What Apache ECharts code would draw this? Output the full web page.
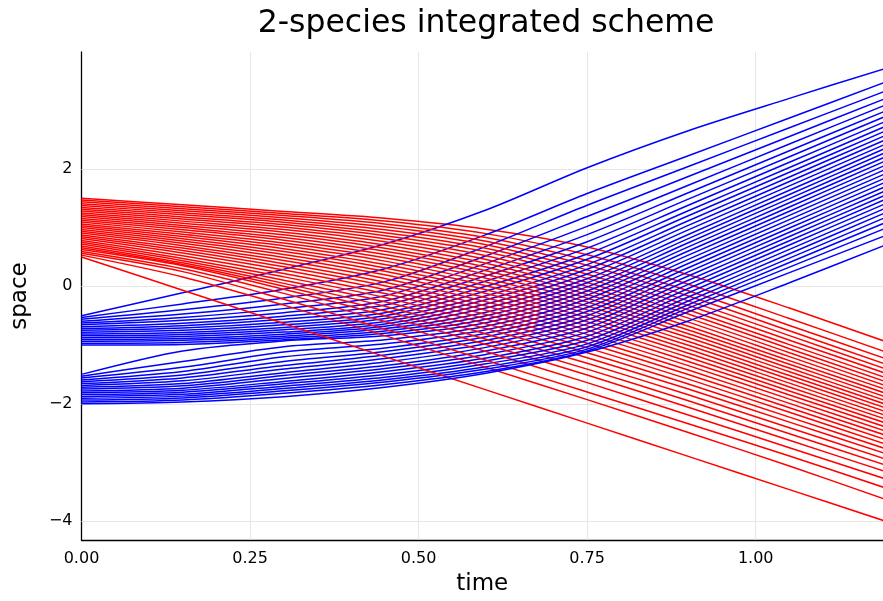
<!DOCTYPE html>
<html><head><meta charset="utf-8">
<script src="https://cdn.jsdelivr.net/npm/echarts@6.0.0/dist/echarts.min.js"></script>
<style>html,body{margin:0;padding:0;background:#fff}#chart{width:883px;height:601px}</style>
</head><body><div id="chart"></div>
<script>
const times = [0, 0.15, 0.3, 0.45, 0.6, 0.75, 0.9, 1.05, 1.19];
const redLines = [
[1.5, 1.388, 1.275, 1.159, 0.973, 0.671, 0.197, -0.37, -0.93],
[1.469, 1.355, 1.241, 1.112, 0.897, 0.537, 0.036, -0.548, -1.107],
[1.438, 1.322, 1.206, 1.063, 0.83, 0.44, -0.076, -0.666, -1.222],
[1.406, 1.287, 1.168, 1.014, 0.768, 0.357, -0.166, -0.758, -1.314],
[1.375, 1.253, 1.131, 0.964, 0.709, 0.28, -0.248, -0.84, -1.395],
[1.344, 1.218, 1.092, 0.914, 0.648, 0.207, -0.327, -0.918, -1.471],
[1.313, 1.182, 1.051, 0.862, 0.587, 0.135, -0.402, -0.993, -1.544],
[1.281, 1.146, 1.009, 0.81, 0.521, 0.066, -0.473, -1.062, -1.613],
[1.25, 1.11, 0.966, 0.758, 0.457, -0.002, -0.542, -1.13, -1.68],
[1.219, 1.074, 0.922, 0.704, 0.393, -0.07, -0.61, -1.198, -1.746],
[1.188, 1.037, 0.877, 0.65, 0.329, -0.138, -0.679, -1.265, -1.811],
[1.156, 1.0, 0.831, 0.596, 0.266, -0.202, -0.743, -1.327, -1.873],
[1.125, 0.963, 0.785, 0.541, 0.202, -0.268, -0.809, -1.392, -1.936],
[1.094, 0.925, 0.738, 0.485, 0.138, -0.334, -0.873, -1.455, -1.998],
[1.063, 0.887, 0.69, 0.429, 0.074, -0.401, -0.94, -1.52, -2.061],
[1.031, 0.849, 0.641, 0.371, 0.009, -0.466, -1.005, -1.583, -2.123],
[1.0, 0.811, 0.592, 0.313, -0.057, -0.535, -1.072, -1.649, -2.188],
[0.969, 0.772, 0.542, 0.255, -0.124, -0.603, -1.139, -1.714, -2.252],
[0.938, 0.733, 0.491, 0.195, -0.194, -0.674, -1.209, -1.782, -2.318],
[0.906, 0.692, 0.439, 0.133, -0.262, -0.744, -1.279, -1.85, -2.385],
[0.875, 0.651, 0.386, 0.071, -0.334, -0.818, -1.351, -1.921, -2.455],
[0.844, 0.609, 0.332, 0.008, -0.406, -0.892, -1.425, -1.994, -2.526],
[0.813, 0.566, 0.277, -0.057, -0.481, -0.969, -1.502, -2.069, -2.6],
[0.781, 0.521, 0.219, -0.124, -0.557, -1.048, -1.581, -2.146, -2.676],
[0.75, 0.475, 0.161, -0.192, -0.637, -1.131, -1.663, -2.228, -2.756],
[0.719, 0.435, 0.105, -0.262, -0.72, -1.217, -1.75, -2.313, -2.84],
[0.688, 0.40, 0.05, -0.34, -0.811, -1.311, -1.847, -2.408, -2.933],
[0.656, 0.37, 0.0, -0.42, -0.9, -1.41, -1.949, -2.51, -3.035],
[0.625, 0.35, -0.05, -0.50, -0.99, -1.51, -2.06, -2.622, -3.145],
[0.594, 0.30, -0.12, -0.6, -1.11, -1.64, -2.19, -2.749, -3.271],
[0.563, 0.25, -0.22, -0.73, -1.26, -1.8, -2.34, -2.89, -3.424],
[0.531, 0.16, -0.32, -0.84, -1.38, -1.93, -2.49, -3.06, -3.618],
[0.5, -0.066, -0.632, -1.198, -1.764, -2.33, -2.896, -3.462, -3.99]
];
const blueLines = [
[-0.5, -0.11, 0.29, 0.72, 1.3, 2.02, 2.65, 3.2, 3.702],
[-0.531, -0.30, -0.05, 0.3, 0.88, 1.58, 2.223, 2.866, 3.466],
[-0.5625, -0.40, -0.2, 0.08, 0.68, 1.38, 2.04, 2.699, 3.314],
[-0.594, -0.47, -0.3, -0.06, 0.52, 1.19, 1.871, 2.552, 3.187],
[-0.625, -0.53, -0.38, -0.16, 0.39, 1.02, 1.721, 2.423, 3.077],
[-0.656, -0.58, -0.45, -0.25, 0.28, 0.88, 1.594, 2.309, 2.975],
[-0.6875, -0.63, -0.51, -0.32, 0.18, 0.76, 1.484, 2.207, 2.882],
[-0.719, -0.67, -0.56, -0.39, 0.09, 0.65, 1.381, 2.113, 2.795],
[-0.75, -0.71, -0.61, -0.45, 0.0, 0.55, 1.287, 2.024, 2.712],
[-0.781, -0.75, -0.655, -0.5, -0.08, 0.46, 1.201, 1.942, 2.633],
[-0.8125, -0.785, -0.7, -0.55, -0.16, 0.37, 1.116, 1.862, 2.557],
[-0.844, -0.82, -0.74, -0.6, -0.23, 0.29, 1.037, 1.785, 2.482],
[-0.875, -0.855, -0.78, -0.64, -0.3, 0.21, 0.96, 1.71, 2.409],
[-0.906, -0.89, -0.815, -0.68, -0.37, 0.13, 0.883, 1.635, 2.337],
[-0.9375, -0.92, -0.85, -0.72, -0.44, 0.06, 0.812, 1.564, 2.265],
[-0.969, -0.955, -0.88, -0.76, -0.5, -0.01, 0.742, 1.493, 2.194],
[-1.0, -0.99, -0.91, -0.8, -0.56, -0.08, 0.671, 1.422, 2.123],
[-1.5, -1.10, -0.93, -0.84, -0.62, -0.15, 0.601, 1.351, 2.051],
[-1.531, -1.28, -1.03, -0.91, -0.68, -0.22, 0.53, 1.279, 1.978],
[-1.5625, -1.38, -1.12, -0.98, -0.74, -0.29, 0.458, 1.207, 1.905],
[-1.594, -1.45, -1.20, -1.05, -0.8, -0.36, 0.388, 1.136, 1.833],
[-1.625, -1.51, -1.28, -1.11, -0.86, -0.43, 0.317, 1.064, 1.76],
[-1.656, -1.56, -1.35, -1.17, -0.92, -0.5, 0.246, 0.992, 1.687],
[-1.6875, -1.61, -1.41, -1.23, -0.98, -0.57, 0.175, 0.92, 1.615],
[-1.719, -1.655, -1.47, -1.29, -1.04, -0.64, 0.104, 0.848, 1.542],
[-1.75, -1.695, -1.52, -1.35, -1.1, -0.71, 0.033, 0.776, 1.469],
[-1.781, -1.735, -1.57, -1.4, -1.16, -0.78, -0.038, 0.703, 1.395],
[-1.8125, -1.77, -1.62, -1.45, -1.22, -0.85, -0.11, 0.629, 1.319],
[-1.844, -1.805, -1.66, -1.5, -1.27, -0.92, -0.183, 0.554, 1.241],
[-1.875, -1.84, -1.70, -1.55, -1.32, -0.98, -0.25, 0.479, 1.16],
[-1.906, -1.87, -1.74, -1.59, -1.37, -1.03, -0.313, 0.405, 1.074],
[-1.9375, -1.90, -1.78, -1.63, -1.41, -1.07, -0.372, 0.326, 0.977],
[-1.969, -1.935, -1.82, -1.67, -1.45, -1.1, -0.434, 0.233, 0.854],
[-2.0, -1.97, -1.88, -1.72, -1.48, -1.12, -0.59, 0.06, 0.693]
];
const xTickValues = [0, 0.25, 0.5, 0.75, 1.0];
const yTickValues = [-4, -2, 0, 2];
const titleText = '2-species integrated scheme';
const xName = 'time';
const yName = 'space';

const FONT = 'DejaVu Sans';
const chart = echarts.init(document.getElementById('chart'), null, {renderer: 'canvas'});

function lineSeries(vals, color) {
  return {
    type: 'line',
    data: vals.map((v, j) => [times[j], v]),
    smooth: 0.3,
    showSymbol: false,
    symbol: 'none',
    silent: true,
    clip: true,
    lineStyle: {color: color, width: 1.5},
    itemStyle: {color: color},
    z: 3
  };
}

const series = [{
  type: 'line', data: [], silent: true, z: 1,
  markLine: {
    silent: true, symbol: 'none', animation: false, z: 1,
    label: {show: false},
    lineStyle: {color: '#e6e6e6', width: 1, type: 'solid'},
    data: xTickValues.filter(v => v > 0).map(v => ({xAxis: v}))
      .concat(yTickValues.map(v => ({yAxis: v})))
  }
}];
const n = Math.max(redLines.length, blueLines.length);
for (let i = 0; i < n; i++) {
  if (i < redLines.length) series.push(lineSeries(redLines[i], '#ff0000'));
  if (i < blueLines.length) series.push(lineSeries(blueLines[i], '#0000ff'));
}

chart.setOption({
  animation: false,
  backgroundColor: '#ffffff',
  title: {
    text: titleText, left: 481, top: 3, textAlign: 'center',
    textStyle: {fontFamily: FONT, fontSize: 31.5, fontWeight: 'normal', color: '#000'}
  },
  grid: {left: 81.5, right: 0, top: 52, bottom: 55, containLabel: false},
  xAxis: {
    type: 'value', min: 0, max: 1.1888,
    name: xName, nameLocation: 'middle', nameGap: 33,
    nameTextStyle: {fontFamily: FONT, fontSize: 23, color: '#000'},
    axisLine: {show: true, onZero: false, lineStyle: {color: '#000', width: 1.3}},
    axisTick: {show: true, inside: true, length: 6, customValues: xTickValues, lineStyle: {color: '#000', width: 1}},
    axisLabel: {show: true, customValues: xTickValues, margin: 11, fontFamily: FONT, fontSize: 16, color: '#000',
      formatter: v => Number(v).toFixed(2)},
    splitLine: {show: false}
  },
  yAxis: {
    type: 'value', min: -4.32, max: 3.99,
    name: yName, nameLocation: 'middle', nameGap: 50, nameRotate: 90,
    nameTextStyle: {fontFamily: FONT, fontSize: 23, color: '#000'},
    axisLine: {show: true, onZero: false, lineStyle: {color: '#000', width: 1.3}},
    axisTick: {show: true, inside: true, length: 6, customValues: yTickValues, lineStyle: {color: '#000', width: 1}},
    axisLabel: {show: true, customValues: yTickValues, margin: 9, fontFamily: FONT, fontSize: 16, color: '#000',
      formatter: v => String(v).replace('-', '\u2212')},
    splitLine: {show: false}
  },
  series: series
});
</script>
</body></html>
